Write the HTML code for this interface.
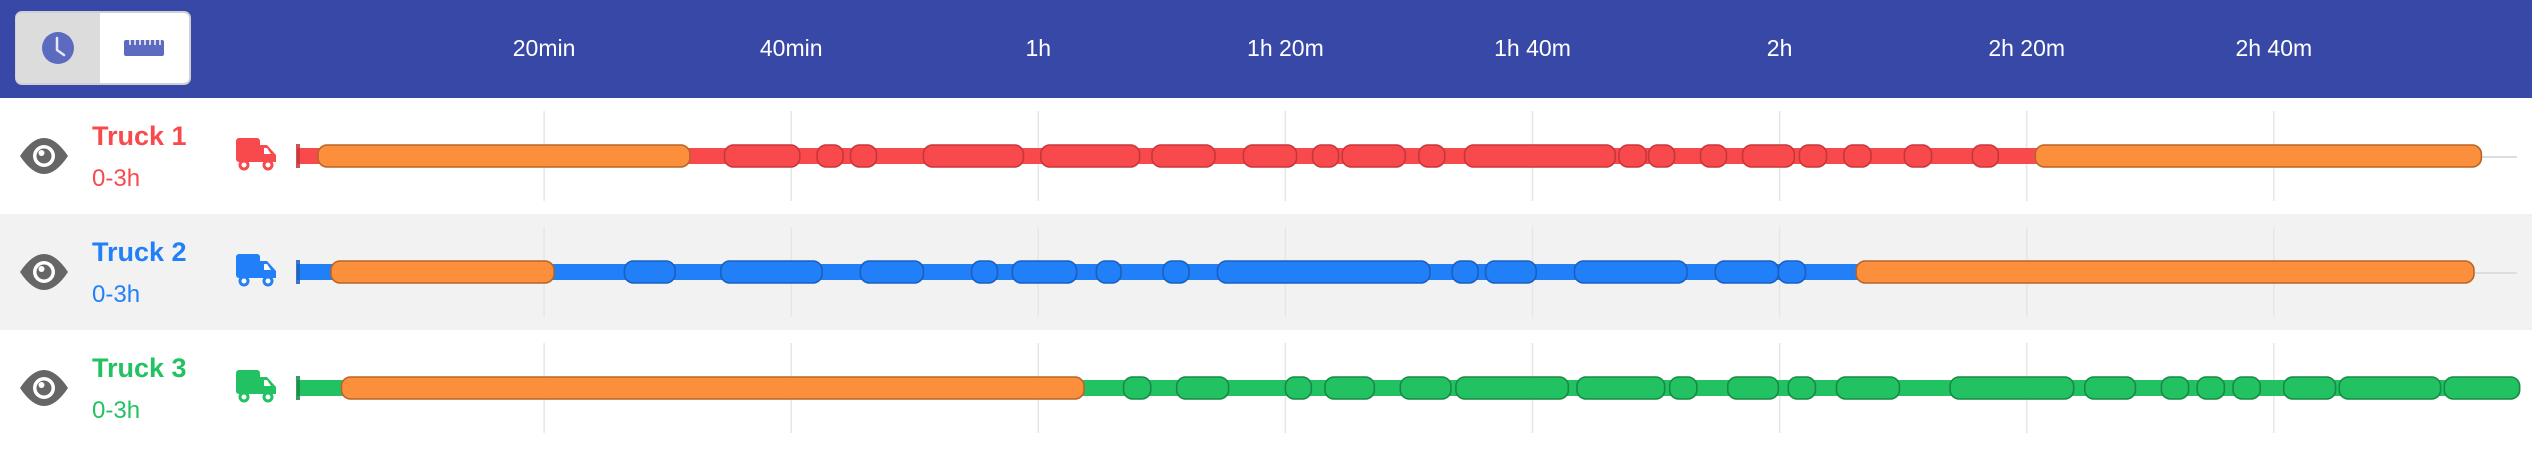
<!DOCTYPE html>
<html><head><meta charset="utf-8">
<style>
html,body{margin:0;padding:0;background:#fff;}
body{width:2532px;height:450px;overflow:hidden;font-family:"Liberation Sans",sans-serif;}
svg text{font-family:"Liberation Sans",sans-serif;}
</style></head>
<body>
<svg id="chart" width="2532" height="450" viewBox="0 0 2532 450" xmlns="http://www.w3.org/2000/svg">
  <rect x="0" y="0" width="2532" height="98" fill="#3848a6"/>
  <g>
    <rect x="16" y="12" width="174" height="72" rx="6" fill="#ffffff" stroke="#d0d0d0" stroke-width="2"/>
    <path d="M22 13 H100 V83 H22 A6 6 0 0 1 16 77 V19 A6 6 0 0 1 22 13 Z" fill="#dcdcdc"/>
    <g>
      <circle cx="58" cy="48" r="16" fill="#5c6bc0"/>
      <path d="M57 38 V50 L64 55" stroke="#e8e8f4" stroke-width="2.5" fill="none" stroke-linecap="round"/>
    </g>
    <g>
      <rect x="124" y="40" width="40" height="16" rx="2" fill="#5c6bc0"/>
      <path d="M130 40v5M135 40v5M140 40v5M145 40v5M150 40v5M155 40v5M160 40v5" stroke="#fff" stroke-width="1.5"/>
    </g>
  </g>
  <rect x="0" y="214" width="2532" height="116" fill="#f2f2f2"/>
  <g id="grid"></g>
  <g id="ticks"></g>
  <g id="rows"></g>
</svg>
<script>
const tickMinutes = [20, 40, 60, 80, 100, 120, 140, 160];
const tickLabels = ["20min", "40min", "1h", "1h 20m", "1h 40m", "2h", "2h 20m", "2h 40m"];
const truckNames = ["Truck 1", "Truck 2", "Truck 3"];
const truckRanges = ["0-3h", "0-3h", "0-3h"];
const truckColors = ["#f84a4c", "#2180f8", "#22c262"];
const truckStrokes = ["#c8363a", "#1a5fc0", "#178a45"];
const truck1Stops = [[1.7,31.8,"o"],[34.6,40.7],[42.1,44.2],[44.8,46.9],[50.7,58.8],[60.2,68.2],[69.2,74.3],[76.6,80.9],[82.2,84.3],[84.6,89.7],[90.8,92.9],[94.5,106.7],[107.0,109.2],[109.4,111.5],[113.6,115.7],[117.0,121.2],[121.6,123.8],[125.2,127.4],[130.1,132.3],[135.6,137.7],[140.7,176.8,"o"]];
const truck2Stops = [[2.75,20.8,"o"],[26.5,30.6],[34.3,42.5],[45.6,50.7],[54.6,56.7],[57.9,63.1],[64.7,66.7],[70.1,72.2],[74.5,91.7],[93.5,95.6],[96.2,100.3],[103.4,112.5],[114.8,119.9],[119.9,122.1],[126.2,176.2,"o"]];
const truck3Stops = [[3.6,63.7,"o"],[66.9,69.1],[71.2,75.4],[80.0,82.1],[83.2,87.2],[89.3,93.4],[93.8,102.9],[103.6,110.7],[111.1,113.3],[115.8,119.9],[120.7,122.9],[124.6,129.7],[133.8,143.8],[144.7,148.8],[150.9,153.1],[153.8,156.0],[156.7,158.9],[160.8,165.0],[165.3,173.5],[173.8,179.9]];
const totalMinutes = 180;

const NS = "http://www.w3.org/2000/svg";
const X0 = 297, PXPM = 12.355;
function xScale(m){ return X0 + m * PXPM; }
function mk(tag, attrs, parent){ const e = document.createElementNS(NS, tag); for (const k in attrs) e.setAttribute(k, attrs[k]); parent.appendChild(e); return e; }

const rowTops = [98, 214, 330];
const grid = document.getElementById("grid");
const ticks = document.getElementById("ticks");
tickMinutes.forEach((m, i) => {
  const x = xScale(m);
  rowTops.forEach(t => {
    const l = mk("line", {x1:x, x2:x, y1:t+13, y2:t+103, stroke:"#e6e6e6", "stroke-width":1.5}, grid);
    
    
  });
  const tx = mk("text", {x:x, y:56, "text-anchor":"middle", fill:"#ffffff", "font-size":23}, ticks);
  tx.textContent = tickLabels[i];
  
  
});

const rows = document.getElementById("rows");
const allStops = [truck1Stops, truck2Stops, truck3Stops];
allStops.forEach((stops, r) => {
  const cy = rowTops[r] + 58;
  const g = mk("g", {}, rows);
  
  
  // eye icon
  const eye = mk("g", {}, g);
  
  
  mk("path", {d:`M20 ${cy} Q44 ${cy-36} 68 ${cy} Q44 ${cy+36} 20 ${cy} Z`, fill:"#666666"}, eye);
  mk("circle", {cx:44, cy:cy, r:11, fill:"#ffffff"}, eye);
  mk("circle", {cx:44, cy:cy, r:7.5, fill:"#666666"}, eye);
  mk("circle", {cx:41.5, cy:cy-3, r:3, fill:"#ffffff"}, eye);
  // labels
  const nm = mk("text", {x:92, y:rowTops[r]+47, fill:truckColors[r], "font-size":27, "font-weight":"bold"}, g);
  nm.textContent = truckNames[r];
  
  
  const rg = mk("text", {x:92, y:rowTops[r]+88, fill:truckColors[r], "font-size":24}, g);
  rg.textContent = truckRanges[r];
  
  
  // truck icon
  const ti = mk("g", {fill:truckColors[r]}, g);
  
  
  const ty = rowTops[r] + 40;
  mk("rect", {x:236, y:ty, width:24, height:24, rx:3}, ti);
  mk("path", {d:`M258 ${ty+7} H267 L276 ${ty+17} V${ty+24} H258 Z`}, ti);
  mk("path", {d:`M264 ${ty+10} H267 L271 ${ty+16} H264 Z`, fill:"#fff"}, ti);
  [244, 268].forEach(wx => {
    mk("circle", {cx:wx, cy:ty+27, r:5, fill:"#fff"}, ti);
    mk("circle", {cx:wx, cy:ty+27, r:4, fill:"none", stroke:truckColors[r], "stroke-width":3}, ti);
  });
  // track
  const lastEnd = stops[stops.length-1][1];
  const base = mk("rect", {x:xScale(0), y:cy-8, width:xScale(lastEnd)-xScale(0)-8, height:16, fill:truckColors[r]}, g);
  
  
  if (lastEnd < totalMinutes - 1) {
    const gl = mk("line", {x1:xScale(lastEnd), x2:xScale(totalMinutes)-4, y1:cy+1, y2:cy+1, stroke:"#dddddd", "stroke-width":2}, g);
    
    
  }
  const mark = mk("rect", {x:xScale(0)-1, y:cy-12, width:4, height:24, fill:truckStrokes[r], opacity:0.85}, g);
  
  
  stops.forEach(s => {
    const isO = s[2] === "o";
    const x1 = xScale(s[0]), x2 = xScale(s[1]);
    const seg = mk("rect", {x:x1, y:cy-11, width:Math.max(6, x2-x1), height:22, rx:9, fill:isO ? "#fb8f3b" : truckColors[r], stroke:isO ? "#b8652a" : truckStrokes[r], "stroke-width":1.6}, g);
    
    
  });
});
</script>
</body></html>
